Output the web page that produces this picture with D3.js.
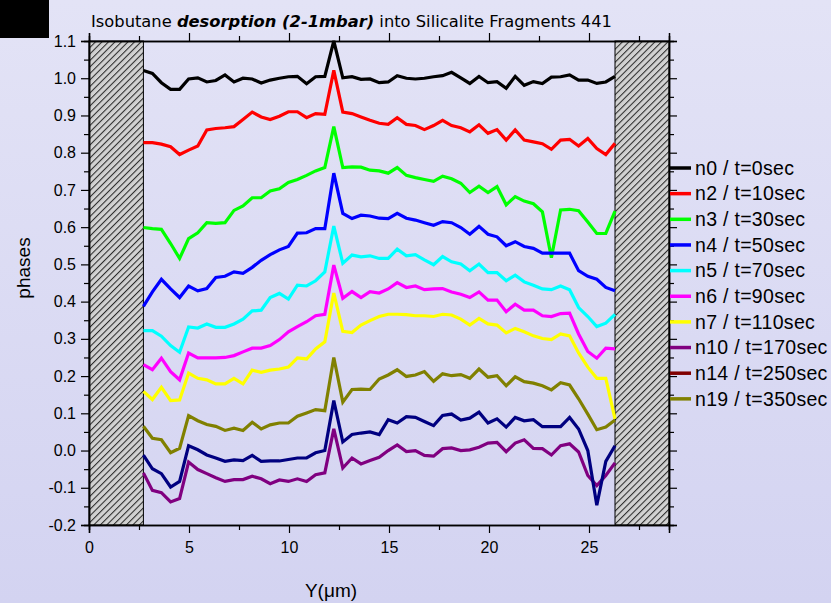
<!DOCTYPE html>
<html>
<head>
<meta charset="utf-8">
<script src="https://cdn.jsdelivr.net/npm/d3@7/dist/d3.min.js"></script>
<style>
  html, body { margin: 0; padding: 0; background: #dcdcf4; }
  svg { display: block; }
</style>
</head>
<body>
<svg id="chart" width="831" height="603"></svg>
<script>
// Sampling positions along the fragment (µm)
const positions = [2.72, 3.17, 3.62, 4.08, 4.53, 4.98, 5.44, 5.89, 6.34, 6.80,
  7.25, 7.70, 8.16, 8.61, 9.06, 9.52, 9.97, 10.42, 10.88, 11.33,
  11.79, 12.24, 12.69, 13.15, 13.60, 14.05, 14.51, 14.96, 15.41, 15.87,
  16.32, 16.77, 17.23, 17.68, 18.13, 18.59, 19.04, 19.50, 19.95, 20.40,
  20.86, 21.31, 21.76, 22.22, 22.67, 23.12, 23.58, 24.03, 24.48, 24.94,
  25.39, 25.84, 26.30];

const n0 = [1.021, 1.013, 0.988, 0.970, 0.970, 0.998, 1.001, 0.990, 0.994, 1.009,
  0.990, 1.000, 0.998, 0.987, 0.995, 1.000, 1.004, 1.005, 0.985, 1.004,
  1.005, 1.100, 1.001, 1.004, 0.997, 0.998, 0.988, 0.990, 1.007, 1.000,
  0.998, 1.000, 1.004, 1.007, 1.016, 1.001, 0.986, 1.005, 0.988, 0.991,
  0.973, 1.005, 0.981, 0.991, 0.986, 1.003, 1.004, 1.009, 0.995, 0.995,
  0.986, 0.990, 1.005];
const n2 = [0.827, 0.827, 0.823, 0.816, 0.795, 0.807, 0.818, 0.861, 0.865, 0.867,
  0.870, 0.889, 0.909, 0.896, 0.889, 0.898, 0.910, 0.910, 0.894, 0.905,
  0.903, 1.021, 0.909, 0.905, 0.896, 0.887, 0.879, 0.876, 0.894, 0.876,
  0.873, 0.862, 0.873, 0.887, 0.873, 0.867, 0.856, 0.875, 0.852, 0.862,
  0.834, 0.861, 0.834, 0.829, 0.824, 0.809, 0.834, 0.836, 0.818, 0.838,
  0.811, 0.795, 0.825];
const n3 = [0.599, 0.596, 0.594, 0.556, 0.516, 0.569, 0.585, 0.612, 0.610, 0.612,
  0.645, 0.657, 0.679, 0.679, 0.697, 0.703, 0.720, 0.728, 0.739, 0.751,
  0.760, 0.870, 0.760, 0.762, 0.761, 0.753, 0.751, 0.745, 0.760, 0.739,
  0.733, 0.728, 0.723, 0.737, 0.730, 0.718, 0.693, 0.710, 0.693, 0.709,
  0.660, 0.682, 0.670, 0.663, 0.641, 0.518, 0.646, 0.648, 0.644, 0.614,
  0.583, 0.583, 0.643];
const n4 = [0.387, 0.426, 0.460, 0.434, 0.411, 0.442, 0.429, 0.435, 0.465, 0.468,
  0.480, 0.476, 0.492, 0.511, 0.526, 0.539, 0.548, 0.584, 0.585, 0.596,
  0.596, 0.745, 0.637, 0.623, 0.632, 0.630, 0.624, 0.623, 0.637, 0.624,
  0.619, 0.612, 0.605, 0.615, 0.612, 0.599, 0.581, 0.602, 0.581, 0.574,
  0.550, 0.561, 0.548, 0.543, 0.530, 0.530, 0.530, 0.530, 0.483, 0.468,
  0.460, 0.438, 0.429];
const n5 = [0.322, 0.322, 0.307, 0.282, 0.264, 0.332, 0.329, 0.340, 0.331, 0.331,
  0.340, 0.353, 0.375, 0.377, 0.411, 0.422, 0.407, 0.444, 0.442, 0.456,
  0.480, 0.603, 0.503, 0.525, 0.520, 0.523, 0.516, 0.516, 0.541, 0.523,
  0.526, 0.512, 0.499, 0.521, 0.507, 0.501, 0.483, 0.501, 0.478, 0.478,
  0.456, 0.471, 0.453, 0.444, 0.434, 0.432, 0.442, 0.432, 0.384, 0.360,
  0.333, 0.342, 0.366];
const n6 = [0.231, 0.217, 0.248, 0.212, 0.190, 0.262, 0.249, 0.249, 0.249, 0.250,
  0.255, 0.265, 0.275, 0.275, 0.282, 0.298, 0.319, 0.333, 0.346, 0.362,
  0.366, 0.498, 0.409, 0.427, 0.411, 0.427, 0.423, 0.434, 0.451, 0.438,
  0.442, 0.432, 0.434, 0.435, 0.426, 0.420, 0.411, 0.426, 0.404, 0.404,
  0.373, 0.393, 0.377, 0.377, 0.362, 0.360, 0.368, 0.369, 0.313, 0.266,
  0.248, 0.275, 0.273];
const n7 = [0.159, 0.137, 0.170, 0.134, 0.136, 0.208, 0.194, 0.190, 0.179, 0.179,
  0.194, 0.179, 0.216, 0.210, 0.216, 0.219, 0.224, 0.249, 0.246, 0.273,
  0.292, 0.423, 0.320, 0.317, 0.337, 0.349, 0.360, 0.366, 0.366, 0.365,
  0.362, 0.362, 0.360, 0.366, 0.364, 0.353, 0.337, 0.355, 0.340, 0.337,
  0.316, 0.328, 0.319, 0.308, 0.301, 0.298, 0.313, 0.308, 0.262, 0.224,
  0.194, 0.194, 0.085];
const n10 = [-0.060, -0.107, -0.113, -0.138, -0.129, -0.031, -0.051, -0.062, -0.073, -0.083,
  -0.078, -0.078, -0.069, -0.076, -0.089, -0.079, -0.083, -0.076, -0.083, -0.065,
  -0.060, 0.058, -0.047, -0.020, -0.036, -0.027, -0.018, 0.000, 0.015, -0.003,
  0.000, -0.013, -0.015, 0.005, 0.007, 0.000, 0.002, 0.009, 0.020, 0.022,
  -0.003, 0.020, 0.029, 0.006, 0.005, -0.012, 0.013, 0.018, -0.004, -0.067,
  -0.094, -0.067, -0.033];
const n14 = [-0.012, -0.049, -0.062, -0.098, -0.083, 0.013, 0.002, -0.012, -0.020, -0.029,
  -0.025, -0.027, -0.013, -0.029, -0.028, -0.028, -0.024, -0.020, -0.020, -0.006,
  0.000, 0.134, 0.023, 0.043, 0.047, 0.050, 0.043, 0.083, 0.074, 0.091,
  0.089, 0.078, 0.067, 0.094, 0.098, 0.082, 0.087, 0.103, 0.074, 0.085,
  0.063, 0.089, 0.080, 0.083, 0.064, 0.064, 0.064, 0.089, 0.058, 0.000,
  -0.147, -0.029, 0.013];
const n19 = [0.065, 0.033, 0.029, -0.006, 0.006, 0.094, 0.080, 0.070, 0.065, 0.054,
  0.060, 0.054, 0.076, 0.058, 0.069, 0.074, 0.074, 0.092, 0.101, 0.110,
  0.107, 0.250, 0.130, 0.164, 0.165, 0.164, 0.192, 0.203, 0.217, 0.199,
  0.203, 0.212, 0.186, 0.206, 0.201, 0.204, 0.194, 0.219, 0.197, 0.201,
  0.174, 0.198, 0.185, 0.181, 0.174, 0.163, 0.182, 0.176, 0.139, 0.098,
  0.056, 0.063, 0.082];

const seriesNames = ["n0 / t=0sec", "n2 / t=10sec", "n3 / t=30sec", "n4 / t=50sec",
  "n5 / t=70sec", "n6 / t=90sec", "n7 / t=110sec", "n10 / t=170sec",
  "n14 / t=250sec", "n19 / t=350sec"];
const seriesValues = [n0, n2, n3, n4, n5, n6, n7, n10, n14, n19];
const lineColors = ["#000000", "#ff0000", "#00ff00", "#0000ff", "#00ffff",
  "#ff00ff", "#ffff00", "#800080", "#000080", "#808000"];
const keyColors = ["#000000", "#ff0000", "#00ff00", "#0000ff", "#00ffff",
  "#ff00ff", "#ffff00", "#800080", "#800000", "#808000"];

// Regions outside the fragment, shown hatched
const maskedRanges = [[0, 2.72], [26.30, 29]];

const xMajor = [0, 5, 10, 15, 20, 25];
const xMinor = [2.5, 7.5, 12.5, 17.5, 22.5, 27.5];
const yMajor = [-0.2, -0.1, 0.0, 0.1, 0.2, 0.3, 0.4, 0.5, 0.6, 0.7, 0.8, 0.9, 1.0, 1.1];
const yMinor = [-0.15, -0.05, 0.05, 0.15, 0.25, 0.35, 0.45, 0.55, 0.65, 0.75, 0.85, 0.95, 1.05];

const W = 831, H = 603;
const margin = { left: 89, right: 831 - 669, top: 41, bottom: 603 - 525 };
const svg = d3.select("#chart");

const defs = svg.append("defs");
const grad = defs.append("linearGradient").attr("id", "bg")
  .attr("x1", 0).attr("y1", 0).attr("x2", 0).attr("y2", 1);
grad.append("stop").attr("offset", "0%").attr("stop-color", "#e3e3f6");
grad.append("stop").attr("offset", "100%").attr("stop-color", "#d3d3f1");

// diagonal "/" hatching
const hatch = defs.append("pattern").attr("id", "hatch")
  .attr("patternUnits", "userSpaceOnUse").attr("width", 4.6).attr("height", 4.6)
  .attr("patternTransform", "rotate(45)");
hatch.append("rect").attr("width", 4.6).attr("height", 4.6).attr("fill", "#d2d2d2");
hatch.append("line").attr("x1", 0.5).attr("x2", 0.5).attr("y1", 0).attr("y2", 4.6)
  .attr("stroke", "#2a2a2a").attr("stroke-width", 1.1);

svg.append("rect").attr("width", W).attr("height", H).attr("fill", "url(#bg)");
svg.append("rect").attr("x", 0).attr("y", 0).attr("width", 49).attr("height", 38).attr("fill", "#000");

const x = d3.scaleLinear().domain([0, 29]).range([margin.left, W - margin.right]);
const y = d3.scaleLinear().domain([-0.2, 1.1]).range([H - margin.bottom, margin.top]);

// hatched bands
svg.append("g").selectAll("rect").data(maskedRanges).join("rect")
  .attr("x", d => x(d[0])).attr("y", y(1.1))
  .attr("width", d => x(d[1]) - x(d[0])).attr("height", y(-0.2) - y(1.1))
  .attr("fill", "url(#hatch)").attr("stroke", "#000").attr("stroke-width", 1);

// clip for the data lines
defs.append("clipPath").attr("id", "plotclip").append("rect")
  .attr("x", x(0)).attr("y", y(1.1) - 2).attr("width", x(29) - x(0)).attr("height", y(-0.2) - y(1.1) + 4);

const line = d3.line().x((d, i) => x(positions[i])).y(d => y(d));
svg.append("g").attr("clip-path", "url(#plotclip)")
  .selectAll("path").data(seriesValues).join("path")
  .attr("d", d => line(d))
  .attr("fill", "none")
  .attr("stroke", (d, i) => lineColors[i])
  .attr("stroke-width", 3.2)
  .attr("stroke-linejoin", "miter")
  .attr("stroke-miterlimit", 3);

// axes
const fontFam = "'Liberation Sans', Arial, sans-serif";
function styleAxis(g) {
  g.select(".domain").attr("stroke", "#000").attr("stroke-width", 1.5);
  g.selectAll(".tick line").attr("stroke", "#000").attr("stroke-width", 1.2);
  g.selectAll("text").attr("fill", "#000").style("font-family", fontFam).style("font-size", "16px");
}
const fmt = v => v.toFixed(1);

svg.append("g").attr("transform", `translate(0,${y(-0.2)})`)
  .call(d3.axisBottom(x).tickValues(xMajor).tickSize(8).tickPadding(9).tickFormat(d3.format("d")))
  .call(styleAxis);
svg.append("g").attr("transform", `translate(0,${y(-0.2)})`)
  .call(d3.axisBottom(x).tickValues(xMinor).tickSize(5).tickFormat(""))
  .call(styleAxis);
svg.append("g").attr("transform", `translate(0,${y(1.1)})`)
  .call(d3.axisTop(x).tickValues(xMajor).tickSize(8).tickFormat(""))
  .call(styleAxis);
svg.append("g").attr("transform", `translate(0,${y(1.1)})`)
  .call(d3.axisTop(x).tickValues(xMinor).tickSize(5).tickFormat(""))
  .call(styleAxis);

svg.append("g").attr("transform", `translate(${x(0)},0)`)
  .call(d3.axisLeft(y).tickValues(yMajor).tickSize(8).tickPadding(5).tickFormat(fmt))
  .call(styleAxis);
svg.append("g").attr("transform", `translate(${x(0)},0)`)
  .call(d3.axisLeft(y).tickValues(yMinor).tickSize(5).tickFormat(""))
  .call(styleAxis);
svg.append("g").attr("transform", `translate(${x(29)},0)`)
  .call(d3.axisRight(y).tickValues(yMajor).tickSize(8).tickFormat(""))
  .call(styleAxis);
svg.append("g").attr("transform", `translate(${x(29)},0)`)
  .call(d3.axisRight(y).tickValues(yMinor).tickSize(5).tickFormat(""))
  .call(styleAxis);

// axis titles
svg.append("text").attr("x", 331).attr("y", 597).attr("text-anchor", "middle")
  .style("font-family", fontFam).style("font-size", "19px").attr("fill", "#000")
  .text("Y(μm)");
svg.append("text").attr("transform", "translate(30,268) rotate(-90)").attr("text-anchor", "middle")
  .style("font-family", fontFam).style("font-size", "19px").attr("fill", "#000")
  .text("phases");

// title
const title = svg.append("text").attr("x", 91).attr("y", 27)
  .style("font-family", "'DejaVu Sans', sans-serif").style("font-size", "15px").attr("fill", "#000")
  .attr("textLength", 521).attr("lengthAdjust", "spacingAndGlyphs");
title.append("tspan").text("Isobutane ");
title.append("tspan").attr("font-weight", "bold").attr("font-style", "italic").text("desorption (2-1mbar)");
title.append("tspan").text(" into Silicalite Fragments 441");

// legend
const legend = svg.append("g").attr("transform", "translate(670,168)");
const items = legend.selectAll("g").data(seriesNames).join("g")
  .attr("transform", (d, i) => `translate(0,${i * 25.65})`);
items.append("line").attr("x1", 0).attr("x2", 21).attr("y1", 0).attr("y2", 0)
  .attr("stroke", (d, i) => keyColors[i]).attr("stroke-width", 3.5);
items.append("text").attr("x", 25).attr("y", 0).attr("dy", "0.35em")
  .style("font-family", fontFam).style("font-size", "19.5px").style("letter-spacing", "0.3px")
  .attr("fill", "#000")
  .text(d => d);
</script>
</body>
</html>
